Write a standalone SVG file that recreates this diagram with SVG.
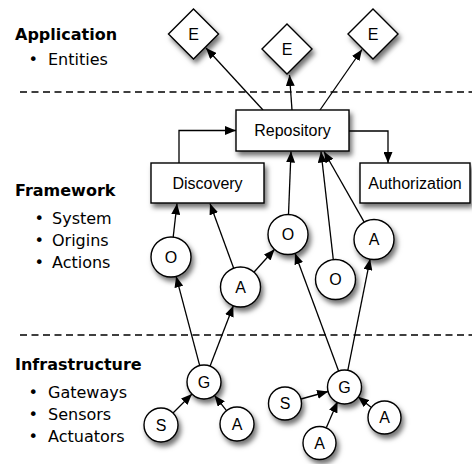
<svg xmlns="http://www.w3.org/2000/svg" width="472" height="464" viewBox="0 0 472 464">
  <style>
    .layer { font-family: "DejaVu Sans", Verdana, sans-serif; font-size: 16px; fill: #000; }
    .layer-title { font-weight: bold; }
    .sep { stroke: #000; stroke-width: 1.3; stroke-dasharray: 7 4.5; fill: none; }
    .shape { fill: #fff; stroke: #000; stroke-width: 1.4; filter: url(#shadow); }
    .label { font-family: "Liberation Sans", Arial, sans-serif; font-size: 16px; fill: #000; text-anchor: middle; }
    .conn { stroke: #000; stroke-width: 1.3; fill: none; marker-end: url(#arrow); }
  </style>
  <defs>
    <filter id="shadow" x="-40%" y="-40%" width="190%" height="190%">
      <feDropShadow dx="2.5" dy="4" stdDeviation="2.5" flood-color="#000" flood-opacity="0.55"/>
    </filter>
    <marker id="arrow" viewBox="0 0 11 9" refX="11" refY="4.5" markerWidth="11" markerHeight="9" markerUnits="userSpaceOnUse" orient="auto">
      <path d="M0,0 L11,4.5 L0,9 Z" fill="#000"/>
    </marker>
  </defs>

  <rect width="472" height="464" fill="#fff"/>

  <!-- layer separators -->
  <line class="sep" x1="20" y1="92" x2="472" y2="92"/>
  <line class="sep" x1="20" y1="335" x2="472" y2="335"/>

  <!-- layer captions -->
  <g id="layer-application" class="layer">
    <text class="layer-title" x="15" y="40">Application</text>
    <text y="65"><tspan x="28.5">•</tspan><tspan x="48">Entities</tspan></text>
  </g>
  <g id="layer-framework" class="layer">
    <text class="layer-title" x="15" y="196">Framework</text>
    <text y="224"><tspan x="34.5">•</tspan><tspan x="52">System</tspan></text>
    <text y="246"><tspan x="34.5">•</tspan><tspan x="52">Origins</tspan></text>
    <text y="268"><tspan x="34.5">•</tspan><tspan x="52">Actions</tspan></text>
  </g>
  <g id="layer-infrastructure" class="layer">
    <text class="layer-title" x="15" y="370">Infrastructure</text>
    <text y="398"><tspan x="28.5">•</tspan><tspan x="48">Gateways</tspan></text>
    <text y="420"><tspan x="28.5">•</tspan><tspan x="48">Sensors</tspan></text>
    <text y="442"><tspan x="28.5">•</tspan><tspan x="48">Actuators</tspan></text>
  </g>

  <!-- connectors -->
  <g id="connectors">
    <line class="conn" x1="263" y1="110" x2="206" y2="48"/>
    <line class="conn" x1="292" y1="110" x2="289.5" y2="75"/>
    <line class="conn" x1="320" y1="110" x2="362" y2="49.5"/>
    <path class="conn" d="M179,163 V130.5 H236"/>
    <path class="conn" d="M349,131 H388 V163"/>
    <line class="conn" x1="173.2" y1="237.1" x2="177" y2="203.5"/>
    <line class="conn" x1="233.7" y1="268.2" x2="210" y2="203.5"/>
    <line class="conn" x1="253.9" y1="272.2" x2="274.6" y2="249.3"/>
    <line class="conn" x1="288.5" y1="214.5" x2="291" y2="151.5"/>
    <line class="conn" x1="333.3" y1="259.6" x2="321" y2="151.5"/>
    <line class="conn" x1="364.2" y1="222.1" x2="324" y2="151.5"/>
    <line class="conn" x1="199.7" y1="365.6" x2="176.1" y2="276.3"/>
    <line class="conn" x1="210.1" y1="366.1" x2="233.3" y2="305.7"/>
    <line class="conn" x1="338.6" y1="371.1" x2="295" y2="253.3"/>
    <line class="conn" x1="347.8" y1="370.3" x2="370.1" y2="259.1"/>
    <line class="conn" x1="173" y1="413" x2="192" y2="394"/>
    <line class="conn" x1="226.5" y1="410.6" x2="214.5" y2="395.4"/>
    <line class="conn" x1="301" y1="399" x2="328.1" y2="391.5"/>
    <line class="conn" x1="326.4" y1="427.5" x2="337.6" y2="401.5"/>
    <line class="conn" x1="371" y1="407.2" x2="358" y2="396.7"/>
  </g>

  <!-- application entities -->
  <g id="entity-1">
    <polygon class="shape" points="193.5,9 218.5,34 193.5,59 168.5,34"/>
    <text class="label" x="193.5" y="39.5">E</text>
  </g>
  <g id="entity-2">
    <polygon class="shape" points="287,24 312,49 287,74 262,49"/>
    <text class="label" x="287" y="54.5">E</text>
  </g>
  <g id="entity-3">
    <polygon class="shape" points="373,9 398,34 373,59 348,34"/>
    <text class="label" x="373" y="39.5">E</text>
  </g>

  <!-- framework services -->
  <g id="repository">
    <rect class="shape" x="236" y="110" width="113" height="41"/>
    <text class="label" x="292.5" y="136">Repository</text>
  </g>
  <g id="discovery">
    <rect class="shape" x="151" y="163" width="113" height="40"/>
    <text class="label" x="207.5" y="189">Discovery</text>
  </g>
  <g id="authorization">
    <rect class="shape" x="360" y="163" width="110" height="40"/>
    <text class="label" x="415" y="189">Authorization</text>
  </g>

  <!-- origins and actions -->
  <g id="origin-1">
    <circle class="shape" cx="171" cy="257" r="20"/>
    <text class="label" x="171" y="262.5">O</text>
  </g>
  <g id="action-1">
    <circle class="shape" cx="240.5" cy="287" r="20"/>
    <text class="label" x="240.5" y="292.5">A</text>
  </g>
  <g id="origin-2">
    <circle class="shape" cx="288" cy="234.5" r="20"/>
    <text class="label" x="288" y="240">O</text>
  </g>
  <g id="origin-3">
    <circle class="shape" cx="335.5" cy="279.5" r="20"/>
    <text class="label" x="335.5" y="285">O</text>
  </g>
  <g id="action-2">
    <circle class="shape" cx="374" cy="239.5" r="20"/>
    <text class="label" x="374" y="245">A</text>
  </g>

  <!-- gateways, sensors, actuators -->
  <g id="gateway-1">
    <circle class="shape" cx="204" cy="382" r="17"/>
    <text class="label" x="204" y="387.5">G</text>
  </g>
  <g id="sensor-1">
    <circle class="shape" cx="161" cy="425" r="17"/>
    <text class="label" x="161" y="430.5">S</text>
  </g>
  <g id="actuator-1">
    <circle class="shape" cx="237" cy="424" r="17"/>
    <text class="label" x="237" y="429.5">A</text>
  </g>
  <g id="gateway-2">
    <circle class="shape" cx="344.5" cy="387" r="17"/>
    <text class="label" x="344.5" y="392.5">G</text>
  </g>
  <g id="sensor-2">
    <circle class="shape" cx="285" cy="403.5" r="16.5"/>
    <text class="label" x="285" y="409">S</text>
  </g>
  <g id="actuator-2">
    <circle class="shape" cx="384.5" cy="417.5" r="16.5"/>
    <text class="label" x="384.5" y="423">A</text>
  </g>
  <g id="actuator-3">
    <circle class="shape" cx="319.5" cy="443" r="16.5"/>
    <text class="label" x="319.5" y="448.5">A</text>
  </g>
</svg>
